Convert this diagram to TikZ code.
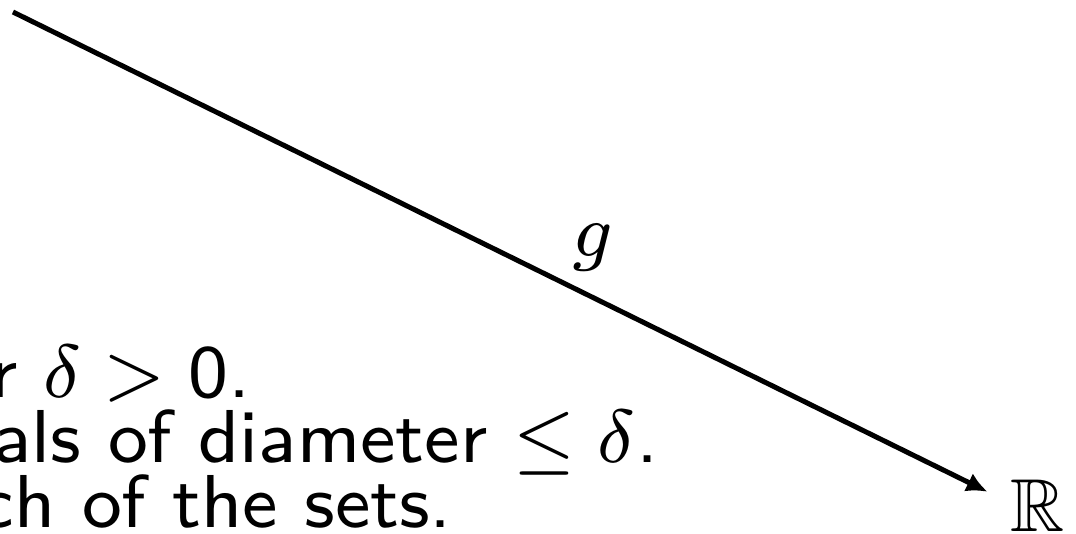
\documentclass[tikz,border=0pt]{standalone}
\usepackage{amssymb}
\usetikzlibrary{arrows.meta}
\begin{document}
\begin{tikzpicture}[x=0.1066667pt,y=-0.1066667pt,scale=9.375,
  every node/.append style={transform shape},
  txt/.style={inner sep=0pt, font=\fontsize{8}{9.6}\selectfont\sffamily},
  bigmath/.style={inner sep=0pt, scale=0.8, font=\fontsize{10}{12}\selectfont},
  conn/.style={line width=5pt, -{Latex[length=21pt,width=20pt]}}]
\useasboundingbox (0,0) rectangle (1076,534);
\clip (0,0) rectangle (1076,534);
\coordinate (src) at (13,12);
\coordinate (tip) at (988,492);
\draw[conn] (src) -- (tip);
\node[txt, anchor=base] (g) at (593,257) {$g$};
\node[bigmath, anchor=base] (R) at (1038,531) {$\mathbb{R}$};
\node[txt, anchor=base east] (l1) at (252,397) {r $\delta > \mathsf{0}$.};
\node[txt, anchor=base east] (l2) at (660,462) {als of diameter $\leq \delta$.};
\node[txt, anchor=base east] (l3) at (454,527) {ch of the sets.};
\end{tikzpicture}
\end{document}
